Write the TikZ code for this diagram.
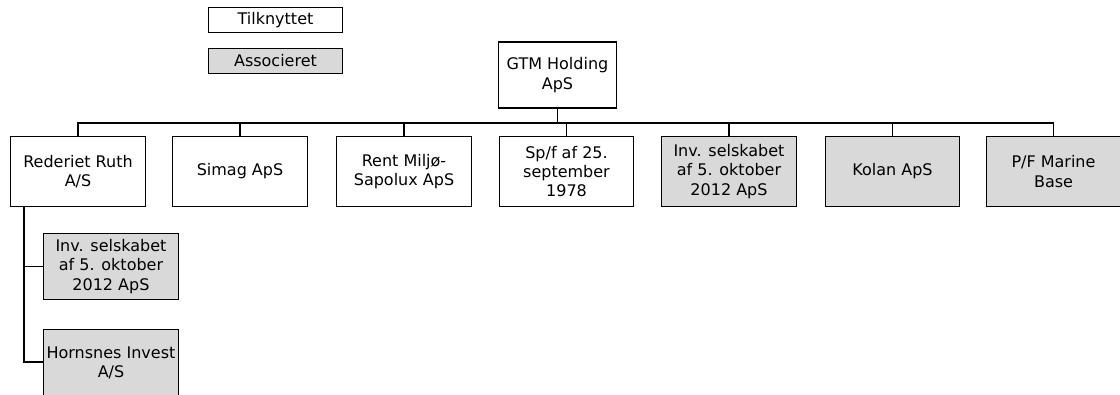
\documentclass[tikz,border=0pt]{standalone}
\usepackage{fontspec}
\setmainfont{DejaVu Sans}
\definecolor{assoc}{HTML}{D9D9D9}
\begin{document}
\begin{tikzpicture}[x=0.75pt,y=-0.75pt,
  box/.style={draw=black,line width=0.8pt,fill=white,align=center,inner sep=0pt,
    font=\fontsize{12}{14.6}\selectfont,minimum width=101pt,minimum height=52pt},
  grey/.style={box,fill=assoc},
  conn/.style={draw=black,line width=0.8pt}]
\useasboundingbox (0,0) rectangle (1120,394);
\clip (0,0) rectangle (1120,394);
\node[box,minimum width=101pt,minimum height=18.75pt] (leg1) at (275.5,20) {Tilknyttet};
\node[grey,minimum width=101pt,minimum height=18.75pt] (leg2) at (275.5,61) {Associeret};
\node[box,minimum width=89pt,minimum height=49.5pt] (gtm) at (557.5,75) {GTM Holding\\ApS};
\node[box] (r1) at (78,171.5) {Rederiet Ruth\\A/S};
\node[box] (r2) at (240,171.5) {Simag ApS};
\node[box] (r3) at (404,171.5) {Rent Miljø-\\Sapolux ApS};
\node[box] (r4) at (566.5,171.5) {Sp/f af 25.\\september\\1978};
\node[grey] (r5) at (729,171.5) {Inv. selskabet\\af 5. oktober\\2012 ApS};
\node[grey] (r6) at (892.5,171.5) {Kolan ApS};
\node[grey] (r7) at (1053.5,171.5) {P/F Marine\\Base};
\node[grey,minimum height=50pt] (s1) at (111,266.5) {Inv. selskabet\\af 5. oktober\\2012 ApS};
\node[grey,minimum height=50pt] (s2) at (111,363) {Hornsnes Invest\\A/S};
\coordinate (bus) at (0,123);
\coordinate (trunk) at (24,0);
\coordinate (low) at (0,362);
\draw[conn] (gtm.south) -- (gtm.south |- bus);
\draw[conn] (r1.north) -- (r1.north |- bus) -- (r7.north |- bus) -- (r7.north);
\foreach \n in {r2,r3,r4,r5,r6} \draw[conn] (\n.north) -- (\n.north |- bus);
\draw[conn] (r1.south -| trunk) -- (trunk |- low) -- (s2.west |- low);
\draw[conn] (trunk |- s1.west) -- (s1.west);
\end{tikzpicture}
\end{document}
